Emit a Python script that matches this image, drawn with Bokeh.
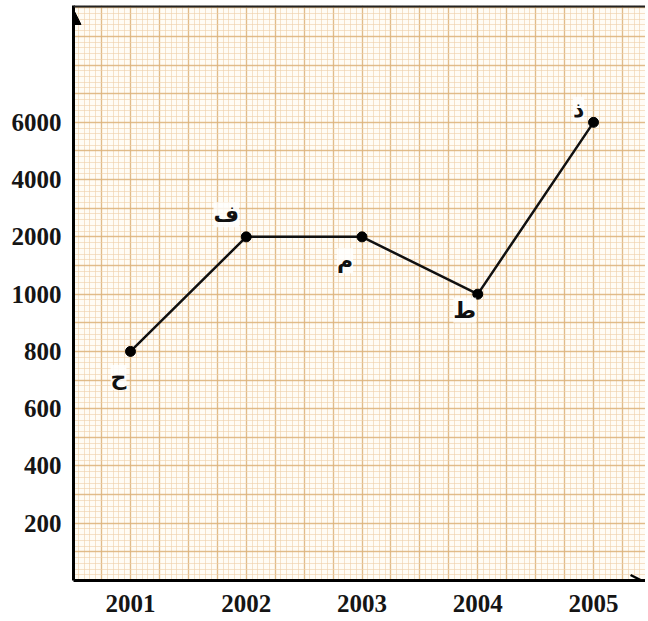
from bokeh.plotting import figure
from bokeh.models import (FixedTicker, Range1d, Arrow, NormalHead, OpenHead, Span,
                          ColumnDataSource, LabelSet)
from bokeh.core.properties import value
from bokeh.embed import file_html
from bokeh.resources import INLINE

# ---- data ----
years = [2001, 2002, 2003, 2004, 2005]
values = [800, 2000, 2000, 1000, 6000]
point_labels = ["ح", "ف", "م", "ط", "ذ"]
y_tick_values = [200, 400, 600, 800, 1000, 2000, 4000, 6000]
x_tick_labels = ["2001", "2002", "2003", "2004", "2005"]

# styling offsets for the letter labels (screen px)
lab_dx = [-12, -20, -17, -13, -15]
lab_dy = [-26, 22, -24, -16, 13]

# y positions: the axis is an ordinal (equal-step) scale of the tick values
y_pos = [y_tick_values.index(v) + 1 for v in values]

X0, X1 = 2000.5076, 2005.449
Y0, Y1 = 0, 10.04

p = figure(width=645, height=615, output_backend="svg", toolbar_location=None,
           x_range=Range1d(X0, X1), y_range=Range1d(Y0, Y1),
           min_border_left=73, min_border_right=0, min_border_top=5,
           min_border_bottom=35)
p.background_fill_color = "#fffcf5"
p.border_fill_color = "white"
p.outline_line_color = None

# ---- graph paper grid ----
def frange(a, b, step):
    out = []
    k = 0
    while True:
        v = round(a + k * step, 6)
        if v > b:
            break
        out.append(v)
        k += 1
    return out

xmaj = frange(2000.5, 2005.5, 0.25)
xmin = frange(2000.5, 2005.5, 0.05)
ymaj = frange(0, 10, 0.5)
ymin = frange(0, 10, 0.1)

p.xgrid.ticker = FixedTicker(ticks=xmaj, minor_ticks=xmin)
p.ygrid.ticker = FixedTicker(ticks=ymaj, minor_ticks=ymin)
for g in (p.xgrid, p.ygrid):
    g.grid_line_color = "#d9ad70"
    g.grid_line_alpha = 0.7
    g.grid_line_width = 1.4
    g.minor_grid_line_color = "#efcfa8"
    g.minor_grid_line_alpha = 0.6
    g.minor_grid_line_width = 1

# ---- axes ----
p.xaxis.ticker = FixedTicker(ticks=years)
p.xaxis.major_label_overrides = {y: s for y, s in zip(years, x_tick_labels)}
p.yaxis.ticker = FixedTicker(ticks=list(range(1, len(y_tick_values) + 1)))
p.yaxis.major_label_overrides = {i + 1: str(v) for i, v in enumerate(y_tick_values)}
for ax in (p.xaxis, p.yaxis):
    ax.axis_line_width = 3
    ax.axis_line_color = "black"
    ax.major_tick_line_color = None
    ax.minor_tick_line_color = None
    ax.major_label_text_font = "Liberation Serif"
    ax.major_label_text_font_style = "bold"
    ax.major_label_text_font_size = "25px"
    ax.major_label_text_color = "#151515"
p.xaxis.major_label_standoff = 8
p.yaxis.major_label_standoff = 6

# arrows at axis ends and top border
p.add_layout(Arrow(end=NormalHead(size=15, fill_color="black", line_color="black"),
                   x_start=X0, y_start=9.5, x_end=X0, y_end=9.97,
                   line_color="black", line_width=3))
p.add_layout(Arrow(end=OpenHead(size=11, line_color="black", line_width=2.5),
                   x_start=2005.25, y_start=0, x_end=2005.415, y_end=0,
                   line_color="black", line_width=3))
p.add_layout(Span(location=Y1, dimension="width", line_color="#222222", line_width=4))

# ---- data line ----
src = ColumnDataSource(dict(x=years, y=y_pos, lab=point_labels, dx=lab_dx, dy=lab_dy))
p.line("x", "y", source=src, line_color="#111111", line_width=2.5)
p.scatter("x", "y", source=src, size=10, color="black")

labels = LabelSet(x="x", y="y", text="lab", source=src, x_offset="dx", y_offset="dy",
                  text_font=value("DejaVu Sans"), text_font_style="bold",
                  text_font_size="22px", text_color="#111111",
                  text_align="center", text_baseline="middle",
                  background_fill_color="white", background_fill_alpha=0.8)
p.add_layout(labels)

open("out.html", "w").write(file_html(p, INLINE))
